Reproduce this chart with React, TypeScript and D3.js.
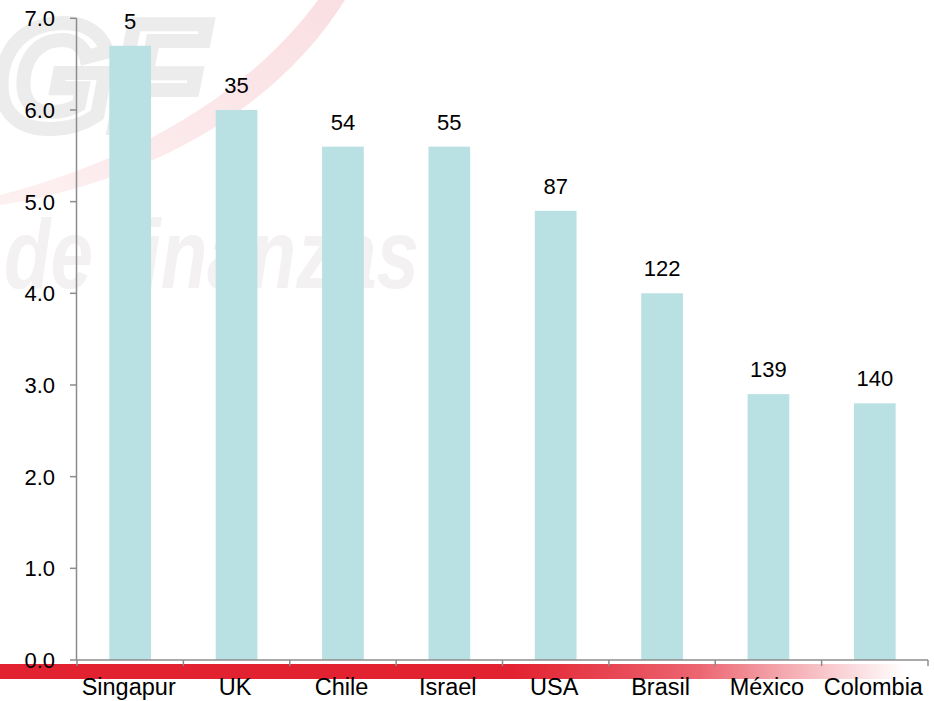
import React from "react";
import * as d3 from "d3";

const categories = ["Singapur", "UK", "Chile", "Israel", "USA", "Brasil", "México", "Colombia"];
const scores = [6.7, 6.0, 5.6, 5.6, 4.9, 4.0, 2.9, 2.8];
const ranks = ["5", "35", "54", "55", "87", "122", "139", "140"];
const yTicks = [0, 1, 2, 3, 4, 5, 6, 7];

const W = 934;
const H = 701;
const FONT = "'Liberation Sans', Arial, sans-serif";

export default function App() {
  const x = d3.scaleBand<string>().domain(categories).range([77, 928]).paddingInner(0.608).paddingOuter(0.304);
  const y = d3.scaleLinear().domain([0, 7]).range([660, 18.3]);
  const step = x.step();
  const boundaries = d3.range(categories.length + 1).map((i) => 77 + i * step);

  return (
    <svg width={W} height={H} style={{ position: "absolute", left: 0, top: 0 }}>
      <defs>
        <linearGradient id="redbar" x1="0" x2="1" y1="0" y2="0">
          <stop offset="0" stopColor="#e32231" />
          <stop offset="0.55" stopColor="#e32231" />
          <stop offset="0.75" stopColor="#ec6672" />
          <stop offset="0.97" stopColor="#ffffff" stopOpacity="0.9" />
          <stop offset="1" stopColor="#ffffff" stopOpacity="0" />
        </linearGradient>
        <linearGradient id="swoosh" x1="0" y1="1" x2="1" y2="0">
          <stop offset="0" stopColor="#fdf0f1" />
          <stop offset="1" stopColor="#fadfe2" />
        </linearGradient>
      </defs>
      <rect width={W} height={H} fill="#ffffff" />
      {/* watermark */}
      <g>
        <text x={-6} y={128} fontFamily={FONT} fontWeight="bold" fontStyle="italic" fontSize={150} fill="none" stroke="#ececec" strokeWidth={14} textLength={210} lengthAdjust="spacingAndGlyphs">GF</text>
        <path d="M 0 205 C 130 185, 270 120, 345 0 L 318 0 C 245 100, 120 165, 0 195 Z" fill="url(#swoosh)" />
        <text x={4} y={288} fontFamily={FONT} fontWeight="bold" fontStyle="italic" fontSize={98} fill="#f3f1f1" textLength={415} lengthAdjust="spacingAndGlyphs">de finanzas</text>
      </g>
      {/* bars */}
      {categories.map((c, i) => (
        <rect key={c} x={x(c)} y={y(scores[i])} width={x.bandwidth()} height={y(0) - y(scores[i])} fill="#b9e0e3" />
      ))}
      {/* data labels */}
      {categories.map((c, i) => (
        <text key={c + "l"} x={(x(c) as number) + x.bandwidth() / 2} y={y(scores[i]) - 17} textAnchor="middle" fontFamily={FONT} fontSize={22} fill="#000">{ranks[i]}</text>
      ))}
      {/* red bar */}
      <rect x={0} y={664} width={W} height={15} fill="url(#redbar)" />
      {/* y axis */}
      <line x1={76.5} x2={76.5} y1={y(7)} y2={y(0)} stroke="#8c8c8c" strokeWidth={1.5} />
      {yTicks.map((t) => (
        <g key={t}>
          <line x1={70} x2={76.5} y1={y(t)} y2={y(t)} stroke="#8c8c8c" strokeWidth={1.5} />
          <text x={55} y={y(t)} dy="0.36em" textAnchor="end" fontFamily={FONT} fontSize={22} fill="#000">{t.toFixed(1)}</text>
        </g>
      ))}
      {/* x axis */}
      <line x1={76.5} x2={928} y1={y(0)} y2={y(0)} stroke="#8c8c8c" strokeWidth={1.5} />
      {boundaries.map((b, i) => (
        <line key={i} x1={b} x2={b} y1={y(0)} y2={y(0) + 6} stroke="#8c8c8c" strokeWidth={1.5} />
      ))}
      {categories.map((c) => (
        <text key={c + "x"} x={(x(c) as number) + x.bandwidth() / 2 - 1.5} y={695} textAnchor="middle" fontFamily={FONT} fontSize={23.5} fill="#000">{c}</text>
      ))}
    </svg>
  );
}
